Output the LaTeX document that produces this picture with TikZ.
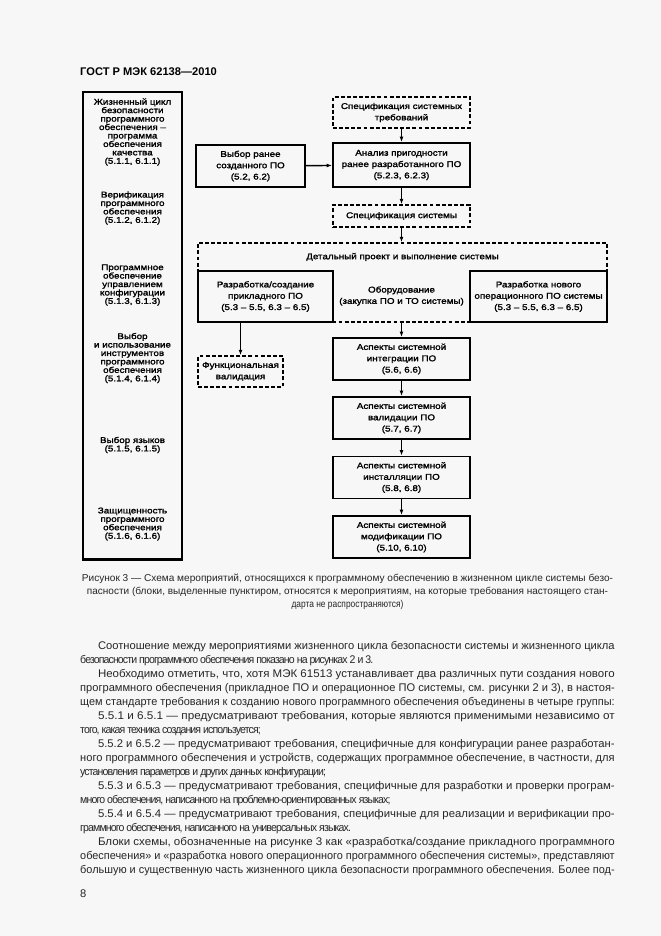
\documentclass[tikz,border=0pt]{standalone}
\usepackage{fontspec}
\usepackage{graphicx}
\setmainfont{Liberation Sans}
\newfontfamily\dgf{Liberation Sans}[FakeBold=1.8,FakeStretch=1.18]
\newfontfamily\bodyf{Liberation Sans}
\newfontfamily\bodyn{Liberation Sans}[FakeStretch=0.95,LetterSpace=-8]
\newfontfamily\capf{Liberation Sans}[FakeStretch=0.84]
\usetikzlibrary{arrows.meta}
\newcommand\bjl[1]{\hbox to 481pt{\resizebox{481pt}{\height}{#1}}}
\newcommand\bji[1]{\hbox to 481pt{\kern16pt\resizebox{465pt}{\height}{#1}}}
\newcommand\brl[1]{\hbox to 481pt{\bodyn#1\hfil}}
\newcommand\bcw[2]{\hbox to 481pt{\hfil\resizebox{#1}{\height}{#2}\hfil}}
\newcommand\bcl[1]{\hbox to 481pt{\hfil#1\hfil}}
\begin{document}
\begin{tikzpicture}[x=0.9pt,y=-0.9pt,
  sbox/.style={draw,line width=1.6pt,inner sep=0pt,align=center,
    font=\dgf\fontsize{7.5}{10.2}\selectfont},
  dbox/.style={sbox,line width=1.2pt,dash pattern=on 3.5pt off 2pt},
  lbl/.style={inner sep=0pt,align=center,font=\dgf\fontsize{7.5}{10.2}\selectfont},
  clbl/.style={inner sep=0pt,align=center,font=\dgf\fontsize{7.5}{7.6}\selectfont},
  conn/.style={line width=1.3pt,-{Latex[length=5pt,width=3.6pt]}}]
\useasboundingbox (0,0) rectangle (661,936);
\fill[white!97!black] (0,0) rectangle (661,936);
% header
\node[anchor=west,inner sep=0pt,font=\bfseries\fontsize{10}{12}\selectfont] (hdr) at (80,72) {ГОСТ Р МЭК 62138—2010};
% left column
\node[draw,line width=2pt,minimum width=89.1pt,minimum height=421pt,inner sep=0pt] (left) at (132.5,325.5) {};
\node[clbl] (g1) at (132.5,132) {Жизненный цикл\\безопасности\\программного\\обеспечения –\\программа\\обеспечения\\качества\\(5.1.1, 6.1.1)};
\node[clbl] (g2) at (132.5,208) {Верификация\\программного\\обеспечения\\(5.1.2, 6.1.2)};
\node[clbl] (g3) at (132.5,285) {Программное\\обеспечение\\управлением\\конфигурации\\(5.1.3, 6.1.3)};
\node[clbl] (g4) at (132.5,358) {Выбор\\и использование\\инструментов\\программного\\обеспечения\\(5.1.4, 6.1.4)};
\node[clbl] (g5) at (132.5,445) {Выбор языков\\(5.1.5, 6.1.5)};
\node[clbl] (g6) at (132.5,524) {Защищенность\\программного\\обеспечения\\(5.1.6, 6.1.6)};
% right part
\node[dbox,minimum width=123.3pt,minimum height=27.9pt] (specreq) at (401.5,112.5) {Спецификация системных\\требований};
\node[sbox,minimum width=98.1pt,minimum height=37.8pt] (vybor) at (250.5,166) {Выбор ранее\\созданного ПО\\(5.2, 6.2)};
\node[sbox,minimum width=123.3pt,minimum height=39.6pt] (analiz) at (401.5,165) {Анализ пригодности\\ранее разработанного ПО\\(5.2.3, 6.2.3)};
\node[dbox,minimum width=123.3pt,minimum height=19.8pt] (specsys) at (401.5,216) {Спецификация системы};
\node[dbox,minimum width=368.1pt,minimum height=71.1pt] (detal) at (402.5,282.5) {};
\node[lbl] (detaltxt) at (402.5,257) {Детальный проект и выполнение системы};
\node[sbox,fill=white!97!black,minimum width=121.5pt,minimum height=45.9pt] (prikl) at (265.5,296.5) {Разработка/создание\\прикладного ПО\\(5.3 – 5.5, 6.3 – 6.5)};
\node[lbl] (oborud) at (401.5,296) {Оборудование\\(закупка ПО и ТО системы)};
\node[sbox,fill=white!97!black,minimum width=123.3pt,minimum height=45.9pt] (noviy) at (538.5,296.5) {Разработка нового\\операционного ПО системы\\(5.3 – 5.5, 6.3 – 6.5)};
\node[dbox,minimum width=76.5pt,minimum height=27.9pt] (funk) at (240.5,371.5) {Функциональная\\валидация};
\node[sbox,minimum width=123.3pt,minimum height=37.8pt] (integr) at (401.5,359) {Аспекты системной\\интеграции ПО\\(5.6, 6.6)};
\node[sbox,minimum width=123.3pt,minimum height=37.8pt] (valid) at (401.5,418) {Аспекты системной\\валидации ПО\\(5.7, 6.7)};
\node[sbox,minimum width=123.3pt,minimum height=37.8pt] (instal) at (401.5,477.5) {Аспекты системной\\инсталляции ПО\\(5.8, 6.8)};
\node[sbox,minimum width=123.3pt,minimum height=37.8pt] (modif) at (401.5,537) {Аспекты системной\\модификации ПО\\(5.10, 6.10)};
% connectors
\draw[conn] (specreq) -- (analiz);
\draw[conn] (vybor) -- (analiz);
\draw[conn] (analiz) -- (specsys);
\draw[conn] (specsys.south) -- (specsys.south |- detal.north);
\draw[conn] (integr.north |- detal.south) -- (integr.north);
\draw[conn] (funk.north |- prikl.south) -- (funk.north);
\draw[conn] (integr) -- (valid);
\draw[conn] (valid) -- (instal);
\draw[conn] (instal) -- (modif);
% caption
\node[anchor=base west,inner sep=0pt,text=black!85,font=\capf\fontsize{9}{11.7}\selectfont] (cap) at (80,581) {\vtop{%
\bcw{478pt}{Рисунок 3 — Схема мероприятий, относящихся к программному обеспечению в жизненном цикле системы безо-}
\bcw{469pt}{пасности (блоки, выделенные пунктиром, относятся к мероприятиям, на которые требования настоящего стан-}
\bcl{дарта не распространяются)}}};
% body text
\node[anchor=base west,inner sep=0pt,text=black!85,font=\bodyf\fontsize{10}{12.65}\selectfont] (body) at (80,649) {\vtop{%
\bji{Соотношение между мероприятиями жизненного цикла безопасности системы и жизненного цикла}
\brl{безопасности программного обеспечения показано на рисунках 2 и 3.}
\bji{Необходимо отметить, что, хотя МЭК 61513 устанавливает два различных пути создания нового}
\bjl{программного обеспечения (прикладное ПО и операционное ПО системы, см. рисунки 2 и 3), в настоя-}
\bjl{щем стандарте требования к созданию нового программного обеспечения объединены в четыре группы:}
\bji{5.5.1 и 6.5.1 — предусматривают требования, которые являются применимыми независимо от}
\brl{того, какая техника создания используется;}
\bji{5.5.2 и 6.5.2 — предусматривают требования, специфичные для конфигурации ранее разработан-}
\bjl{ного программного обеспечения и устройств, содержащих программное обеспечение, в частности, для}
\brl{установления параметров и других данных конфигурации;}
\bji{5.5.3 и 6.5.3 — предусматривают требования, специфичные для разработки и проверки програм-}
\brl{много обеспечения, написанного на проблемно-ориентированных языках;}
\bji{5.5.4 и 6.5.4 — предусматривают требования, специфичные для реализации и верификации про-}
\brl{граммного обеспечения, написанного на универсальных языках.}
\bji{Блоки схемы, обозначенные на рисунке 3 как «разработка/создание прикладного программного}
\bjl{обеспечения» и «разработка нового операционного программного обеспечения системы», представляют}
\bjl{большую и существенную часть жизненного цикла безопасности программного обеспечения. Более под-}}};
\node[anchor=base west,inner sep=0pt,text=black!85,font=\bodyf\fontsize{10}{12}\selectfont] (pnum) at (80,897) {8};
\end{tikzpicture}
\end{document}
